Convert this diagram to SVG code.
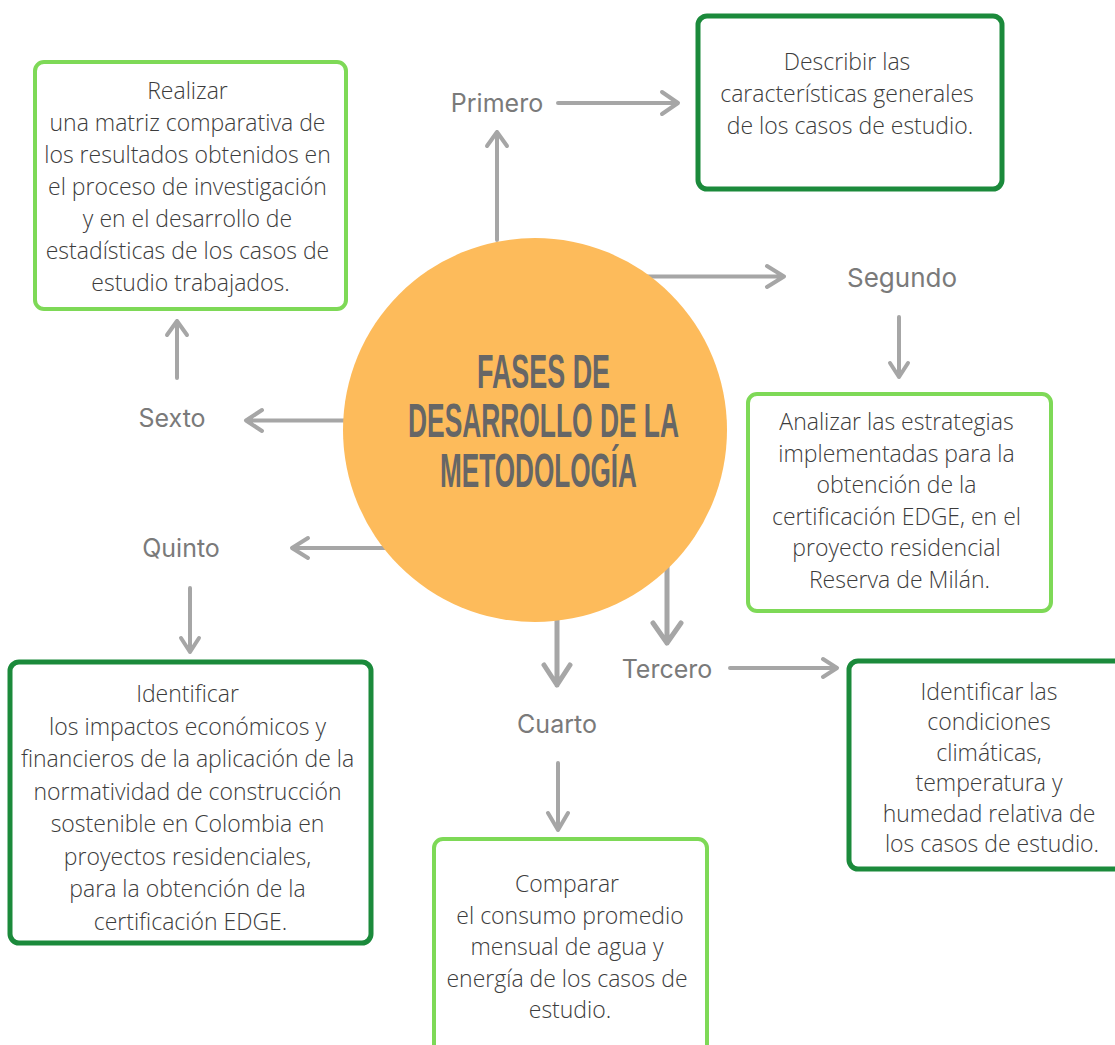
<svg xmlns="http://www.w3.org/2000/svg" width="1115" height="1045" viewBox="0 0 1115 1045">
  <style>
    .bg { fill: #ffffff; }
    .arrow { fill: none; stroke: #a6a6a6; stroke-width: 4; stroke-linecap: round; stroke-linejoin: round; }
    .arrow.thick { stroke-width: 5; }
    .box-light { fill: #ffffff; stroke: #7ed957; stroke-width: 4; }
    .box-dark { fill: #ffffff; stroke: #1b8a3b; stroke-width: 5; }
    .body { font-family: "Open Sans", "Liberation Sans", sans-serif; font-weight: 300; font-size: 23px; fill: #3c3c3c; text-anchor: middle; }
    .step { font-family: Inter, "Liberation Sans", sans-serif; font-weight: 400; font-size: 25px; fill: #7a7a7a; text-anchor: middle; }
    .title { font-family: "Liberation Sans", Arial, sans-serif; font-weight: 700; font-size: 49px; fill: #666666; }
  </style>

  <rect class="bg" x="0" y="0" width="1115" height="1045"/>

  <!-- connectors (drawn first so the hub covers their roots) -->
  <g id="connectors">
    <path class="arrow" d="M497,240 V132 M487,146 L497,132 L507,146"/>
    <path class="arrow" d="M558,103 H678 M662,92 L678,103 L662,114"/>
    <path class="arrow" d="M600,276.5 H784 M767,266 L784,276.5 L767,287"/>
    <path class="arrow" d="M899,317 V377 M890,363 L899,377 L908,363"/>
    <path class="arrow thick" d="M667,520 V643 M653,623 L667,643 L681,623"/>
    <path class="arrow" d="M730,668 H837 M823,659 L837,668 L823,677"/>
    <path class="arrow thick" d="M557,600 V685 M544,665 L557,685 L570,665"/>
    <path class="arrow" d="M558,763 V830 M548,813 L558,830 L568,813"/>
    <path class="arrow" d="M430,548 H292 M308,538 L292,548 L308,558"/>
    <path class="arrow" d="M190,588 V652 M181,638 L190,652 L199,638"/>
    <path class="arrow" d="M400,420.5 H246 M262,410 L246,420.5 L262,431"/>
    <path class="arrow" d="M177,378 V321 M167,335 L177,321 L187,335"/>
  </g>

  <!-- central hub -->
  <g id="hub">
    <circle cx="535" cy="430" r="192" fill="#fdbb5b"/>
    <text class="title" x="477" y="388" textLength="133" lengthAdjust="spacingAndGlyphs">FASES DE</text>
    <text class="title" x="408" y="437" textLength="271" lengthAdjust="spacingAndGlyphs">DESARROLLO DE LA</text>
    <text class="title" x="440" y="487" textLength="197" lengthAdjust="spacingAndGlyphs">METODOLOGÍA</text>
  </g>

  <!-- step labels -->
  <g id="label-primero"><text class="step" x="497" y="112">Primero</text></g>
  <g id="label-segundo"><text class="step" x="902" y="287" style="font-size:26px">Segundo</text></g>
  <g id="label-tercero"><text class="step" x="667" y="678">Tercero</text></g>
  <g id="label-cuarto"><text class="step" x="557" y="733">Cuarto</text></g>
  <g id="label-quinto"><text class="step" x="181" y="557">Quinto</text></g>
  <g id="label-sexto"><text class="step" x="172" y="427">Sexto</text></g>

  <!-- step 1 -->
  <g id="box-primero">
    <rect class="box-dark" x="698" y="16" width="304" height="173" rx="9"/>
    <text class="body">
      <tspan x="850" y="70">Describir las</tspan>
      <tspan x="850" y="102">características generales</tspan>
      <tspan x="850" y="134">de los casos de estudio.</tspan>
    </text>
  </g>

  <!-- step 2 -->
  <g id="box-segundo">
    <rect class="box-light" x="748" y="394" width="303" height="217" rx="9"/>
    <text class="body">
      <tspan x="899.5" y="430">Analizar las estrategias</tspan>
      <tspan x="899.5" y="461.6">implementadas para la</tspan>
      <tspan x="899.5" y="493.2">obtención de la</tspan>
      <tspan x="899.5" y="524.8">certificación EDGE, en el</tspan>
      <tspan x="899.5" y="556.4">proyecto residencial</tspan>
      <tspan x="899.5" y="588">Reserva de Milán.</tspan>
    </text>
  </g>

  <!-- step 3 -->
  <g id="box-tercero">
    <rect class="box-dark" x="849" y="661" width="288" height="208" rx="9"/>
    <text class="body">
      <tspan x="992" y="700">Identificar las</tspan>
      <tspan x="992" y="730.4">condiciones</tspan>
      <tspan x="992" y="760.8">climáticas,</tspan>
      <tspan x="992" y="791.2">temperatura y</tspan>
      <tspan x="992" y="821.6">humedad relativa de</tspan>
      <tspan x="992" y="852">los casos de estudio.</tspan>
    </text>
  </g>

  <!-- step 4 -->
  <g id="box-cuarto">
    <rect class="box-light" x="434" y="839" width="273" height="230" rx="9"/>
    <text class="body">
      <tspan x="570" y="892">Comparar</tspan>
      <tspan x="573" y="923.5">el consumo promedio</tspan>
      <tspan x="570" y="955">mensual de agua y</tspan>
      <tspan x="570" y="986.5">energía de los casos de</tspan>
      <tspan x="570" y="1018">estudio.</tspan>
    </text>
  </g>

  <!-- step 5 -->
  <g id="box-quinto">
    <rect class="box-dark" x="10" y="662" width="361" height="281" rx="9"/>
    <text class="body">
      <tspan x="190.5" y="702">Identificar</tspan>
      <tspan x="190.5" y="734.6">los impactos económicos y</tspan>
      <tspan x="190.5" y="767.1">financieros de la aplicación de la</tspan>
      <tspan x="190.5" y="799.7">normatividad de construcción</tspan>
      <tspan x="190.5" y="832.3">sostenible en Colombia en</tspan>
      <tspan x="190.5" y="864.9">proyectos residenciales,</tspan>
      <tspan x="190.5" y="897.4">para la obtención de la</tspan>
      <tspan x="190.5" y="930">certificación EDGE.</tspan>
    </text>
  </g>

  <!-- step 6 -->
  <g id="box-sexto">
    <rect class="box-light" x="35" y="62" width="311" height="247" rx="9"/>
    <text class="body">
      <tspan x="190.5" y="99">Realizar</tspan>
      <tspan x="190.5" y="131">una matriz comparativa de</tspan>
      <tspan x="190.5" y="163">los resultados obtenidos en</tspan>
      <tspan x="190.5" y="195">el proceso de investigación</tspan>
      <tspan x="190.5" y="227">y en el desarrollo de</tspan>
      <tspan x="190.5" y="259">estadísticas de los casos de</tspan>
      <tspan x="190.5" y="291">estudio trabajados.</tspan>
    </text>
  </g>
</svg>
